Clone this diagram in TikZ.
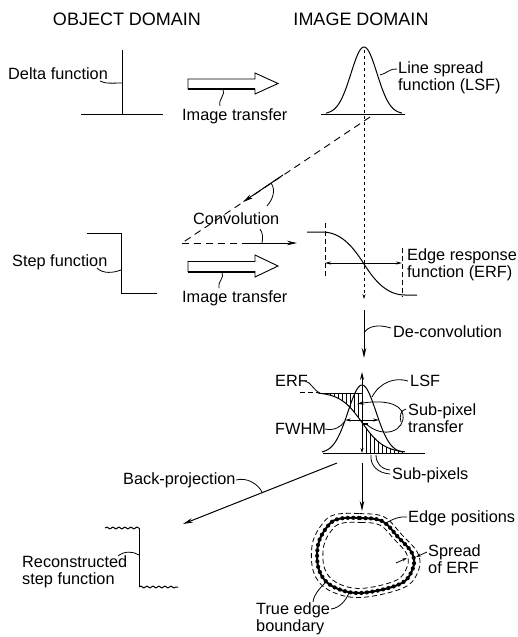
\documentclass[tikz,border=0pt]{standalone}
\usepackage{fontspec}
\setmainfont{Liberation Sans}
\usetikzlibrary{arrows.meta,decorations.pathmorphing}
\begin{document}
\begin{tikzpicture}[x=1pt,y=-1pt,
  lbl/.style={font=\fontsize{16.3}{17}\selectfont, inner sep=0pt, anchor=base west, align=left},
  hdr/.style={font=\fontsize{18}{20}\selectfont, inner sep=0pt, anchor=base},
  ln/.style={line width=1pt},
  ldr/.style={line width=0.8pt},
  dsh/.style={line width=0.9pt, dash pattern=on 7pt off 5pt},
  dotl/.style={line width=0.9pt, dash pattern=on 2.5pt off 3.5pt},
  tip/.style={-{Stealth[length=10pt,width=4.5pt]}},
  smalltips/.style={{Stealth[length=6pt,width=3pt]}-{Stealth[length=6pt,width=3pt]}},
  smalltip/.style={-{Stealth[length=5pt,width=3pt]}},
  hollow/.style={line width=0.9pt, fill=white, line join=miter},
  wavy/.style={decorate, decoration={snake, amplitude=0.9pt, segment length=6pt}}
]
\useasboundingbox (0,0) rectangle (517,637);

% headers
\node[hdr] (objdom) at (127,25) {OBJECT DOMAIN};
\node[hdr] (imgdom) at (361,25) {IMAGE DOMAIN};

% delta function
\draw[ln] (122,50) -- (122,114);
\draw[ln] (81,114) -- (163,114);
\node[lbl] (delta) at (8,79) {Delta function};
\draw[ldr] (100,81) .. controls (105,84) and (113,83) .. (122,83);

% image transfer arrow 1
\draw[hollow] (188,79) -- (255,79) -- (255,73) -- (278,83.5) -- (255,94) -- (255,89) -- (188,89) -- cycle;
\draw[line width=2pt] (188,89) -- (255,89);
\draw[ldr] (223,89) .. controls (226,95) and (218,99) .. (220,106);
\node[lbl] (it1) at (182,120) {Image transfer};

% LSF
\draw[ln] (321,114) -- (405,114);
\draw[ln] plot[domain=-38:38, samples=80] ({364+\x},{114-67*exp(-((\x/13)^2)/2)});
\draw[dotl, -{Stealth[length=5pt,width=3pt]}] (364,50) -- (364,299);
\node[lbl] (lsf) at (398,90) {Line spread\\function (LSF)};
\draw[ldr] (380,75) .. controls (386,74) and (390,68) .. (397,69);

% convolution
\draw[dsh] (370,117) -- (182,243);
\draw[ln,tip] (283,175) -- (243,202);
\draw[ldr] (271,183) .. controls (276,190) and (273,199) .. (267,206);
\node[lbl] (conv) at (193,224) {Convolution};
\draw[ldr] (260,229) .. controls (263,233) and (263,238) .. (262,243);
\draw[dsh] (182,243) -- (242,243);
\draw[ln,tip] (242,243) -- (297,243);

% step function
\draw[ln] (87,233) -- (121,233) -- (121,293) -- (157,293);
\node[lbl] (step) at (12,266) {Step function};
\draw[ldr] (97,268) .. controls (103,274) and (113,273) .. (121,270);

% image transfer arrow 2
\draw[hollow] (188,261.5) -- (255,261.5) -- (255,255) -- (278,266) -- (255,277) -- (255,271.5) -- (188,271.5) -- cycle;
\draw[line width=2pt] (188,271.5) -- (255,271.5);
\draw[ldr] (222,272) .. controls (225,278) and (217,282) .. (219,288);
\node[lbl] (it2) at (182,302) {Image transfer};

% ERF
\draw[ln] (307,232) -- (322,232) .. controls (340,232) and (352,245) .. (364,264) .. controls (376,283) and (388,295) .. (405,295) -- (417,295);
\draw[ldr, dash pattern=on 5pt off 3pt] (325,223) -- (325,277);
\draw[ldr, dash pattern=on 5pt off 3pt] (402,248) -- (402,297);
\draw[ldr, smalltips] (325,263) -- (402,263);
\node[lbl] (erfl) at (407,277) {Edge response\\function (ERF)};

% de-convolution
\draw[ln,tip] (364,310) -- (364,358);
\node[lbl] (deconv) at (393,337) {De-convolution};
\draw[ldr] (364,333) .. controls (368,326) and (378,324) .. (391,328);

% sub-pixel diagram
\draw[ln] (323,453) -- (425,453);
\draw[ln] plot[domain=-40:40, samples=80] ({362+\x},{453-68*exp(-((\x/14)^2)/2)});
\draw[dsh, dash pattern=on 5pt off 3pt] (300,392) -- (318,392);
\draw[ln] plot[domain=318:405, samples=60] (\x,{392+61/(1+exp(-(\x-362)/11))});
\draw[line width=0.6pt] (322,393) -- (362,393);
\foreach \xx in {330,334,...,358}
  \draw[line width=0.6pt] (\xx,393) -- (\xx,{392+61/(1+exp(-(\xx-362)/11))});
\foreach \xx in {366,370,...,402}
  \draw[line width=0.6pt] (\xx,{392+61/(1+exp(-(\xx-362)/11))}) -- (\xx,453);
\draw[ln, {Stealth[length=5pt,width=3pt]}-{Stealth[length=8pt,width=4pt]}] (362,453) -- (362,372);
\draw[ldr, smalltips] (345,420) -- (379,420);
\draw[ldr, -{Stealth[length=7pt,width=3.5pt]}] (366,424) .. controls (385,440) and (405,430) .. (403,415) .. controls (401,402) and (380,400) .. (357,404);
\draw[line width=2pt] (363,424) -- (368,424);

\node[lbl] (erfs) at (275,386) {ERF};
\draw[ldr] (305,381) .. controls (311,382) and (313,390) .. (320,393);
\node[lbl] (lsfs) at (410,386) {LSF};
\draw[ldr] (408,381) .. controls (395,377) and (380,382) .. (372,397);
\node[lbl] (spt) at (408,432) {Sub-pixel\\transfer};
\draw[ldr] (406,409) .. controls (401,410) and (399,416) .. (401,422);
\node[lbl] (fwhm) at (275,434) {FWHM};
\draw[ldr] (325,429) .. controls (334,431) and (341,427) .. (345,421);
\node[lbl] (subpx) at (392,479) {Sub-pixels};
\draw[ldr] (371,455) .. controls (370,466) and (378,473) .. (390,474);
\draw[ldr] (376,455) .. controls (376,463) and (381,469) .. (390,470);

% back-projection
\draw[ln,tip] (337,463) -- (183,524);
\node[lbl] (bp) at (123,484) {Back-projection};
\draw[ldr] (236,480) .. controls (247,477) and (258,484) .. (262,492);

% down arrow
\draw[ln,tip] (362,463) -- (362,511);

% reconstructed step
\draw[ln,wavy] (105,528) -- (139,528);
\draw[ln] (139,528) -- (139,587);
\draw[ln,wavy] (139,587) -- (178,587);
\node[lbl] (rec) at (22,584) {Reconstructed\\step function};
\draw[ldr] (118,556) .. controls (124,551) and (133,551) .. (139,555);

% edge boundary
\def\bpts{(338,519) (360,518) (382,521) (398,537) (412,553) (413,568) (400,584) (360,593) (332,586) (319,570) (318,545) (327,527)}
\begin{scope}[shift={(365,555)}, scale=1.12, shift={(-365,-555)}]
  \draw[ldr, dash pattern=on 5pt off 3pt] plot[smooth cycle, tension=0.6] coordinates {\bpts};
\end{scope}
\begin{scope}[shift={(365,555)}, scale=0.88, shift={(-365,-555)}]
  \draw[ldr, dash pattern=on 5pt off 3pt] plot[smooth cycle, tension=0.6] coordinates {\bpts};
\end{scope}
\draw[line width=2pt] plot[smooth cycle, tension=0.6] coordinates {\bpts};
\draw[line width=4.2pt, line cap=round, dash pattern=on 0pt off 5.5pt] plot[smooth cycle, tension=0.6] coordinates {\bpts};

\node[lbl] (edgep) at (408,522) {Edge positions};
\draw[ldr] (386,523) .. controls (393,519) and (400,516) .. (407,517);
\node[lbl] (spr) at (428,573) {Spread\\of ERF};
\draw[ldr, smalltip] (427,552) -- (416,557);
\draw[ldr, smalltip] (396,563) -- (407,558);
\node[lbl] (true) at (256,631) {True edge\\boundary};
\draw[ldr] (313,602) .. controls (314,594) and (320,588) .. (325,583);
\draw[ldr] (331,609) .. controls (340,608) and (346,600) .. (349,593);
\end{tikzpicture}
\end{document}
